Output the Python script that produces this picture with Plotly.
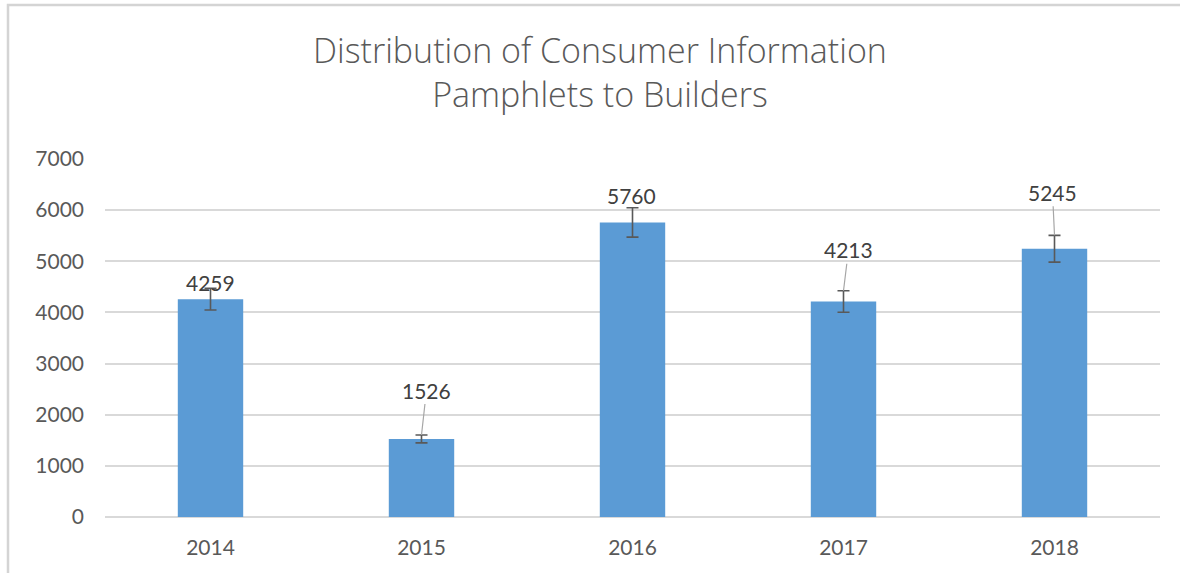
import plotly.graph_objects as go

# Data
years = ["2014", "2015", "2016", "2017", "2018"]
pamphlets = [4259, 1526, 5760, 4213, 5245]
error_percent = 5
y_ticks = [0, 1000, 2000, 3000, 4000, 5000, 6000, 7000]
title_text = "Distribution of Consumer Information<br>Pamphlets to Builders"

# Label placement (pixels): (dx, dy, leader line?)
label_offsets = [(0, -6, False), (5, -45, True), (-1, -12, False), (5, -41, True), (-2, -43, True)]

FONT = "Lato, 'Open Sans', sans-serif"
TITLE_FONT = "'Open Sans', Lato, sans-serif"

# plot area in page pixels
PLOT_L, PLOT_B, PLOT_W, PLOT_H = 105, 517, 1055, 358

positions = list(range(len(years)))

fig = go.Figure()
fig.add_trace(go.Bar(
    x=positions, y=pamphlets,
    marker=dict(color="#5b9bd5", line=dict(width=0)),
    error_y=dict(type="percent", value=error_percent, color="#595959", thickness=1.6, width=6),
    width=0.31,
    customdata=years,
    hovertemplate="%{customdata}: %{y}<extra></extra>",
))

annotations = []
for xi, v, (dx, dy, leader) in zip(positions, pamphlets, label_offsets):
    top = v * (1 + error_percent / 100)
    if leader:
        annotations.append(dict(
            x=xi, y=top, xref="x", yref="y", text=str(v),
            showarrow=True, arrowhead=0, arrowwidth=1.2, arrowcolor="#a6a6a6",
            ax=dx, ay=dy, standoff=0, startstandoff=0,
            font=dict(family=FONT, size=21, color="#404040"),
        ))
    else:
        annotations.append(dict(
            x=xi, y=top, xref="x", yref="y", text=str(v), showarrow=False,
            xshift=dx, yshift=-dy,
            font=dict(family=FONT, size=21, color="#404040"),
        ))

# chart title as a paper-positioned annotation
annotations.append(dict(
    x=(600 - PLOT_L) / PLOT_W, y=(PLOT_B - 72) / PLOT_H, xref="paper", yref="paper",
    xanchor="center", yanchor="middle", showarrow=False,
    text=title_text,
    font=dict(family=TITLE_FONT, size=34, color="#595959", weight=300),
))

fig.update_layout(
    width=1180, height=573,
    margin=dict(l=PLOT_L, r=1180 - PLOT_L - PLOT_W, t=PLOT_B - PLOT_H, b=573 - PLOT_B),
    paper_bgcolor="white", plot_bgcolor="white",
    showlegend=False,
    font=dict(family=FONT, size=21, color="#595959"),
    annotations=annotations,
    shapes=[dict(
        type="rect", xref="paper", yref="paper",
        x0=(8 - PLOT_L) / PLOT_W, x1=1.2, y0=-0.3, y1=(PLOT_B - 5) / PLOT_H,
        line=dict(color="#d4d4d4", width=2.5), fillcolor="rgba(0,0,0,0)", layer="below",
    )],
)
fig.update_xaxes(
    range=[-0.5, len(years) - 0.5],
    tickvals=positions, ticktext=years,
    showgrid=False, showline=False, zeroline=False,
    ticks="", ticklabelstandoff=16,
    tickfont=dict(family=FONT, size=21, color="#595959"),
)
fig.update_yaxes(
    range=[0, 7000], tickvals=y_ticks,
    showgrid=True, gridcolor="#d9d9d9", gridwidth=1.5,
    zeroline=True, zerolinecolor="#d9d9d9", zerolinewidth=1.5,
    showline=False, ticks="", ticklabelstandoff=20,
    tickfont=dict(family=FONT, size=21, color="#595959"),
)

fig.write_html(
    "out.html",
    config={"displayModeBar": False},
    post_script="document.body.style.margin='0';",
)
